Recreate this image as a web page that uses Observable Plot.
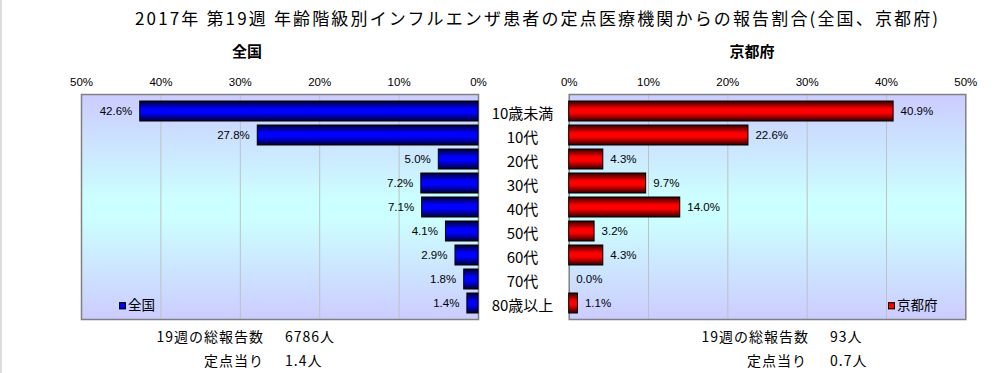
<!DOCTYPE html>
<html><head><meta charset="utf-8">
<script src="https://cdn.jsdelivr.net/npm/d3@7"></script>
<script src="https://cdn.jsdelivr.net/npm/@observablehq/plot@0.6"></script>
<style>
html,body{margin:0;padding:0;background:#fff;}
#wrap{position:relative;width:1006px;height:373px;overflow:hidden;border-left:2px solid #dcdcdc;box-sizing:border-box;font-family:"Noto Sans CJK JP",sans-serif;}
.t{position:absolute;white-space:nowrap;line-height:1;color:#000;}
.c{transform:translate(-50%,-50%);}
.l{transform:translate(0,-50%);}
.r{transform:translate(-100%,-50%);}
.plot{position:absolute;}
.sq{display:inline-block;width:5px;height:5px;border:1px solid #000;margin-right:2px;vertical-align:middle;position:relative;top:-1px;}
</style></head>
<body><div id="wrap"></div>
<script>
const categories = ["10歳未満","10代","20代","30代","40代","50代","60代","70代","80歳以上"];
const nationalValues = [42.6, 27.8, 5.0, 7.2, 7.1, 4.1, 2.9, 1.8, 1.4];
const kyotoValues = [40.9, 22.6, 4.3, 9.7, 14.0, 3.2, 4.3, 0.0, 1.1];
const xTicks = [0, 10, 20, 30, 40, 50];
const title = "2017年 第19週 年齢階級別インフルエンザ患者の定点医療機関からの報告割合(全国、京都府)";
const panelTitles = ["全国", "京都府"];
const nationalTotal = "6786人";
const nationalPerPoint = "1.4人";
const kyotoTotal = "93人";
const kyotoPerPoint = "0.7人";

const wrap = document.getElementById("wrap");
function addText(txt, x, y, cls, style) {
  const d = document.createElement("div");
  d.className = "t " + cls;
  d.textContent = txt;
  d.style.left = x + "px"; d.style.top = y + "px";
  Object.assign(d.style, style || {});
  wrap.appendChild(d);
  return d;
}

const natData = categories.map((c, i) => ({cat: c, v: nationalValues[i]}));
const kyoData = categories.map((c, i) => ({cat: c, v: kyotoValues[i]}));

function addDefs(svg, id, dark, bright) {
  const defs = d3.select(svg).insert("defs", ":first-child");
  const bg = defs.append("linearGradient").attr("id", "bg" + id).attr("x1", 0).attr("y1", 0).attr("x2", 0).attr("y2", 1);
  [[0, "#ccccff"], [0.47, "#ccffff"], [0.55, "#ccffff"], [1, "#ccccff"]].forEach(([o, c]) => bg.append("stop").attr("offset", o).attr("stop-color", c));
  const bar = defs.append("linearGradient").attr("id", "bar" + id).attr("x1", 0).attr("y1", 0).attr("x2", 0).attr("y2", 1);
  [[0, dark], [0.4, bright], [0.6, bright], [1, dark]].forEach(([o, c]) => bar.append("stop").attr("offset", o).attr("stop-color", c));
}

const common = {
  height: 270,
  marginTop: 34,
  marginBottom: 11,
  style: {fontFamily: "Liberation Sans, Arial, sans-serif", fontSize: "11.5px", color: "#000", background: "transparent", overflow: "visible"},
  y: {domain: categories, padding: 0.18, label: null},
};

// Left plot (national), reversed x
const left = Plot.plot({
  ...common,
  width: 560,
  marginLeft: 79,
  marginRight: 84,
  x: {domain: [0, 50], reverse: true, label: null},
  marks: [
    Plot.frame({fill: "url(#bgL)", stroke: null}),
    Plot.gridX([10, 20, 30, 40], {stroke: "#c0c0c0", strokeOpacity: 1}),
    Plot.frame({stroke: "#808080", strokeWidth: 1.5}),
    Plot.barX(natData, {x1: 0, x2: "v", y: "cat", fill: "url(#barL)", stroke: "#000", strokeWidth: 1}),
    Plot.text(natData, {x: "v", y: "cat", text: d => d.v.toFixed(1) + "%", textAnchor: "end", dx: -8, fontSize: 11.5}),
    Plot.axisX({anchor: "top", ticks: xTicks, tickFormat: d => d + "%", tickSize: 0, tickPadding: 9, fontSize: 11.5, label: null}),
    Plot.axisY({anchor: "right", tickSize: 0, tickPadding: 44, textAnchor: "middle", dy: 3, fontSize: 15, fontFamily: "Noto Sans CJK JP", label: null})
  ]
});
left.classList.add("plot");
left.style.left = "0px"; left.style.top = "60px";
addDefs(left, "L", "#000030", "#0000ff");
wrap.appendChild(left);

// Right plot (Kyoto)
const right = Plot.plot({
  ...common,
  width: 466,
  marginLeft: 26.7,
  marginRight: 42.7,
  x: {domain: [0, 50], label: null},
  marks: [
    Plot.frame({fill: "url(#bgR)", stroke: null}),
    Plot.gridX([10, 20, 30, 40], {stroke: "#c0c0c0", strokeOpacity: 1}),
    Plot.frame({stroke: "#808080", strokeWidth: 1.5}),
    Plot.barX(kyoData.filter(d => d.v > 0), {x1: 0, x2: "v", y: "cat", fill: "url(#barR)", stroke: "#000", strokeWidth: 1}),
    Plot.text(kyoData, {x: "v", y: "cat", text: d => d.v.toFixed(1) + "%", textAnchor: "start", dx: 7, fontSize: 11.5}),
    Plot.axisX({anchor: "top", ticks: xTicks, tickFormat: d => d + "%", tickSize: 0, tickPadding: 9, fontSize: 11.5, label: null}),
    Plot.axisY({ticks: []})
  ]
});
right.classList.add("plot");
right.style.left = "540px"; right.style.top = "60px";
addDefs(right, "R", "#300000", "#ff0000");
wrap.appendChild(right);

// Titles
addText(title, 133, 17, "l", {fontSize: "17px", letterSpacing: "2.15px"});
addText(panelTitles[0], 245, 50, "c", {fontSize: "15px", fontWeight: "bold"});
addText(panelTitles[1], 750, 50, "c", {fontSize: "15px", fontWeight: "bold"});

// Legends
const lg1 = addText("", 117, 305, "l", {fontSize: "13.5px"});
lg1.innerHTML = '<span class="sq" style="background:#0000ff"></span>' + panelTitles[0];
const lg2 = addText("", 886, 305, "l", {fontSize: "13.5px"});
lg2.innerHTML = '<span class="sq" style="background:#ff0000"></span>' + panelTitles[1];

// Bottom texts
const bs = {fontSize: "14px", letterSpacing: "1px"};
addText("19週の総報告数", 262, 336, "r", bs);
addText(nationalTotal, 283, 336, "l", bs);
addText("定点当り", 262, 360, "r", bs);
addText(nationalPerPoint, 283, 360, "l", bs);
addText("19週の総報告数", 807, 336, "r", bs);
addText(kyotoTotal, 828, 336, "l", bs);
addText("定点当り", 805, 360, "r", bs);
addText(kyotoPerPoint, 828, 360, "l", bs);
</script>
</body></html>
